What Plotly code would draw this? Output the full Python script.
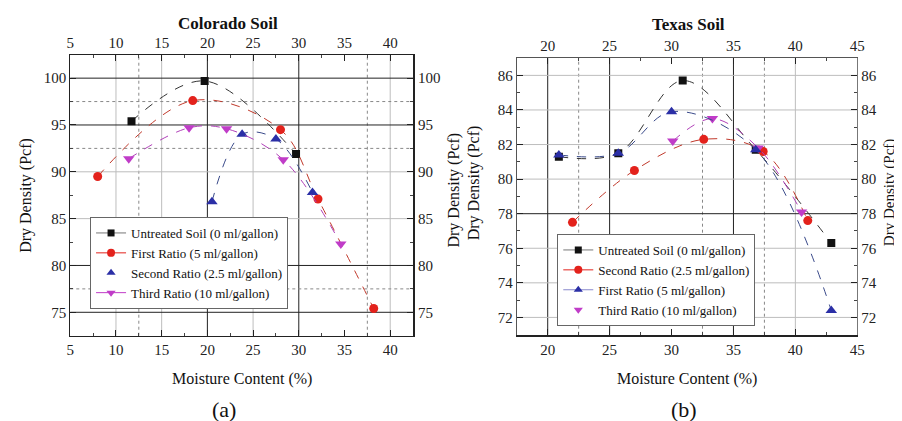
import plotly.graph_objects as go

# ---------------- DATA ----------------
# Colorado Soil (a)
co_untreated_x = [11.7, 19.7, 29.7]
co_untreated_y = [95.4, 99.7, 91.9]
co_first_x = [8.0, 18.4, 28.0, 32.1, 38.2]
co_first_y = [89.5, 97.6, 94.5, 87.1, 75.4]
co_second_x = [20.5, 23.8, 27.5, 31.5]
co_second_y = [86.8, 94.0, 93.5, 87.8]
co_third_x = [11.4, 18.0, 22.1, 28.3, 34.6]
co_third_y = [91.4, 94.7, 94.6, 91.3, 82.3]

# Texas Soil (b)
tx_untreated_x = [20.9, 25.7, 30.9, 36.8, 42.9]
tx_untreated_y = [81.3, 81.5, 85.7, 81.7, 76.3]
tx_second_x = [22.0, 27.0, 32.6, 37.4, 41.0]
tx_second_y = [77.5, 80.5, 82.3, 81.6, 77.6]
tx_first_x = [20.9, 25.7, 30.0, 36.8, 42.9]
tx_first_y = [81.4, 81.5, 83.9, 81.7, 72.4]
tx_third_x = [30.1, 33.3, 37.0, 40.5]
tx_third_y = [82.2, 83.5, 81.8, 78.1]

co_xticks = [5, 10, 15, 20, 25, 30, 35, 40]
co_yticks = [75, 80, 85, 90, 95, 100]
tx_xticks = [20, 25, 30, 35, 40, 45]
tx_yticks = [72, 74, 76, 78, 80, 82, 84, 86]

lbl_untreated = "Untreated Soil (0 ml/gallon)"
lbl_first = "First Ratio (5 ml/gallon)"
lbl_second = "Second Ratio (2.5 ml/gallon)"
lbl_third = "Third Ratio (10 ml/gallon)"

# ---------------- STYLE ----------------
FONT = "Liberation Serif, DejaVu Serif, serif"
BLACK = "#111111"
RED = "#e3221c"
BLUE = "#2b2fa6"
MAG = "#c03cc8"
C_BLACK_L = "#333333"
C_RED_L = "#c0392b"
C_BLUE_L = "#3a4a8a"
C_MAG_L = "#b040b8"

fig = go.Figure()


def add_series(x, y, xa, ya, color, lcolor, symbol, size):
    fig.add_trace(go.Scatter(x=x, y=y, xaxis=xa, yaxis=ya, mode="lines",
                             line=dict(shape="spline", smoothing=1.0, color=lcolor, width=1, dash="dash"),
                             showlegend=False, hoverinfo="skip"))
    fig.add_trace(go.Scatter(x=x, y=y, xaxis=xa, yaxis=ya, mode="markers",
                             marker=dict(symbol=symbol, color=color, size=size),
                             showlegend=False))


def add_legend_entry(name, legend, color, symbol, size, line_color=None):
    mode = "lines+markers" if line_color else "markers"
    fig.add_trace(go.Scatter(x=[None], y=[None], xaxis="x", yaxis="y", mode=mode, name=name,
                             legend=legend,
                             marker=dict(symbol=symbol, color=color, size=size),
                             line=dict(color=line_color or color, width=1)))


# Colorado
add_series(co_untreated_x, co_untreated_y, "x", "y", BLACK, C_BLACK_L, "square", 8)
add_series(co_first_x, co_first_y, "x", "y", RED, C_RED_L, "circle", 9)
add_series(co_second_x, co_second_y, "x", "y", BLUE, C_BLUE_L, "triangle-up", 10)
add_series(co_third_x, co_third_y, "x", "y", MAG, C_MAG_L, "triangle-down", 10)
# Texas
add_series(tx_untreated_x, tx_untreated_y, "x2", "y2", BLACK, C_BLACK_L, "square", 8)
add_series(tx_second_x, tx_second_y, "x2", "y2", RED, C_RED_L, "circle", 9)
add_series(tx_third_x, tx_third_y, "x2", "y2", MAG, C_MAG_L, "triangle-down", 10)
add_series(tx_first_x, tx_first_y, "x2", "y2", BLUE, C_BLUE_L, "triangle-up", 10)

# Legends
add_legend_entry(lbl_untreated, "legend", BLACK, "square", 7, "#777777")
add_legend_entry(lbl_first, "legend", RED, "circle", 8, RED)
add_legend_entry(lbl_second, "legend", BLUE, "triangle-up", 8)
add_legend_entry(lbl_third, "legend", MAG, "triangle-down", 8, MAG)

add_legend_entry(lbl_untreated, "legend2", BLACK, "square", 7, "#777777")
add_legend_entry(lbl_second, "legend2", RED, "circle", 8, RED)
add_legend_entry(lbl_first, "legend2", BLUE, "triangle-up", 8, "#8888cc")
add_legend_entry(lbl_third, "legend2", MAG, "triangle-down", 8)

# dummy traces so mirrored axes are drawn
fig.add_trace(go.Scatter(x=[None], y=[None], xaxis="x3", yaxis="y3", showlegend=False))
fig.add_trace(go.Scatter(x=[None], y=[None], xaxis="x4", yaxis="y4", showlegend=False))

L_DOM_X = [0.0654, 0.4501]
L_DOM_Y = [0.2216, 0.889]
R_DOM_X = [0.5665, 0.9487]
R_DOM_Y = [0.224, 0.881]
L_XR = [5, 42.5]
L_YR = [72.5, 102.5]
R_XR = [17.5, 45]
R_YR = [71, 87]

tickfont = dict(family=FONT, size=15, color="#222")


def ax(domain, rng, tickvals, minor_dtick, **kw):
    d = dict(domain=domain, range=rng, tickmode="array", tickvals=tickvals,
             ticks="inside", ticklen=6, tickcolor="#222", tickwidth=1,
             minor=dict(dtick=minor_dtick, ticks="inside", ticklen=3, tickcolor="#444", showgrid=False),
             showline=True, linecolor="#222", linewidth=1, showgrid=False, zeroline=False,
             tickfont=tickfont, fixedrange=True)
    d.update(kw)
    return d


fig.update_layout(
    width=902, height=421,
    margin=dict(l=0, r=0, t=0, b=0),
    paper_bgcolor="white", plot_bgcolor="white",
    font=dict(family=FONT, size=13, color="#111"),
    xaxis=ax(L_DOM_X, L_XR, co_xticks, 2.5, anchor="y", side="bottom", tick0=5),
    yaxis=ax(L_DOM_Y, L_YR, co_yticks, 2.5, anchor="x", side="left"),
    xaxis3=ax(L_DOM_X, L_XR, co_xticks, 2.5, anchor="y3", side="top", overlaying="x"),
    yaxis3=ax(L_DOM_Y, L_YR, co_yticks, 2.5, anchor="x3", side="right", overlaying="y", linewidth=2),
    xaxis2=ax(R_DOM_X, R_XR, tx_xticks, 2.5, anchor="y2", side="bottom", linewidth=2),
    yaxis2=ax(R_DOM_Y, R_YR, tx_yticks, 1, anchor="x2", side="left", linecolor="#555"),
    xaxis4=ax(R_DOM_X, R_XR, tx_xticks, 2.5, anchor="y4", side="top", overlaying="x2", linecolor="#555"),
    yaxis4=ax(R_DOM_Y, R_YR, tx_yticks, 1, anchor="x4", side="right", overlaying="y2", linecolor="#777"),
    legend=dict(x=0.0876, y=1 - 209 / 421, xanchor="left", yanchor="top", bgcolor="white",
                bordercolor="#666", borderwidth=1, font=dict(family=FONT, size=13, color="#111"),
                tracegroupgap=0, itemwidth=30),
    legend2=dict(x=0.612, y=1 - 226 / 421, xanchor="left", yanchor="top", bgcolor="white",
                 bordercolor="#666", borderwidth=1, font=dict(family=FONT, size=13, color="#111"),
                 tracegroupgap=0, itemwidth=30),
)

# Grid lines (style)
grid_styles = {
    "black": dict(color="#222222", width=1, dash="solid"),
    "gray": dict(color="#bdbdbd", width=1, dash="solid"),
    "dot": dict(color="#888888", width=1, dash="dot"),
}
left_grid = {
    "v": {"black": [20, 30], "gray": [10, 15, 25, 40], "dot": [12.5, 37.5]},
    "h": {"black": [100, 95, 80, 75], "gray": [90, 85], "dot": [97.5, 92.5, 77.5]},
}
right_grid = {
    "v": {"black": [20, 25, 35], "gray": [40], "dot": [22.5, 32.5, 37.5]},
    "h": {"black": [78], "gray": [86, 84, 82, 80, 76, 74, 72], "dot": []},
}
for (xr, yr, grid) in [("x", "y", left_grid), ("x2", "y2", right_grid)]:
    for style, vals in grid["v"].items():
        for v in vals:
            fig.add_shape(type="line", xref=xr, yref=yr + " domain", x0=v, x1=v, y0=0, y1=1,
                          line=grid_styles[style], layer="below")
    for style, vals in grid["h"].items():
        for v in vals:
            fig.add_shape(type="line", xref=xr + " domain", yref=yr, x0=0, x1=1, y0=v, y1=v,
                          line=grid_styles[style], layer="below")

# Text
def txt(x, y, s, size=15, bold=False, angle=0):
    fig.add_annotation(x=x / 902, y=1 - y / 421, xref="paper", yref="paper",
                       text=f"<b>{s}</b>" if bold else s, showarrow=False,
                       font=dict(family=FONT, size=size, color="#111"),
                       textangle=angle, xanchor="center", yanchor="middle")

txt(219, 15, "Colorado Soil", 17, True)
txt(685, 16, "Texas Soil", 17, True)
txt(233, 371, "Moisture Content (%)", 16)
txt(683, 371, "Moisture Content (%)", 16)
txt(215, 401, "(a)", 22)
txt(680, 401, "(b)", 22)
txt(14, 187, "Dry Density (Pcf)", 16, angle=-90)
txt(447, 182, "Dry Density (Pcf)", 16, angle=-90)
txt(468, 175, "Dry Density (Pcf)", 16, angle=-90)
txt(888, 185, "Dry Density (Pcf)", 15, angle=-90)

fig.write_html("out.html")
